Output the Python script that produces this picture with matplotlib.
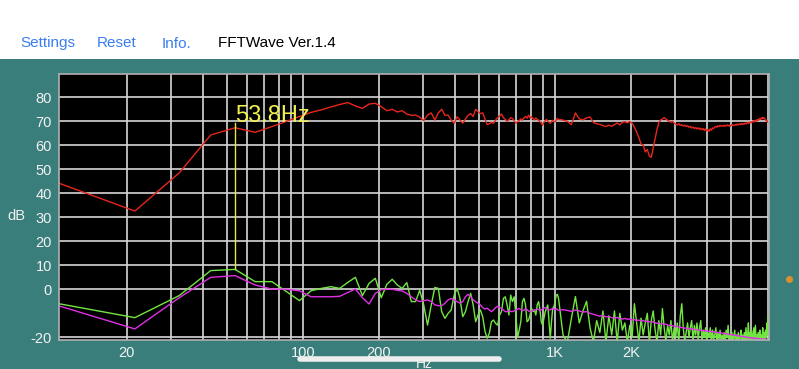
import matplotlib
matplotlib.use('Agg')
import matplotlib.pyplot as plt
from matplotlib.patches import Rectangle
from matplotlib.lines import Line2D

plt.rcParams['font.family'] = ['Liberation Sans', 'DejaVu Sans']

# FFT bins (4096 points at 44.1 kHz); every bin up to 96, then every 4th
bin_hz = 44100 / 4096
bins = list(range(1, 97)) + list(range(100, 657, 4))

red_db = [
	44.2, 32.6, 48.5, 64.3, 67.3, 65.4, 67.8, 70.0, 72.0, 73.7,
	74.8, 76.0, 77.0, 77.8, 76.4, 75.4, 77.2, 77.5, 76.1, 74.4,
	75.0, 73.9, 74.4, 73.0, 72.5, 72.6, 71.7, 70.3, 72.6, 73.5,
	70.5, 73.5, 75.0, 72.5, 72.6, 70.5, 69.2, 71.9, 70.5, 69.2,
	71.0, 72.5, 73.2, 72.0, 75.0, 74.0, 73.2, 73.5, 71.0, 68.6,
	69.0, 69.5, 69.2, 70.5, 71.5, 72.2, 73.0, 71.5, 70.8, 70.0,
	70.6, 71.5, 71.2, 70.2, 69.2, 69.8, 70.3, 71.0, 70.5, 71.5,
	72.0, 71.3, 72.6, 71.4, 71.9, 71.2, 70.6, 71.4, 70.8, 70.5,
	69.8, 69.2, 68.4, 69.6, 70.2, 70.8, 70.1, 69.6, 69.2, 69.8,
	70.4, 70.0, 69.8, 70.5, 71.2, 70.8,
	# every 4th bin from 100
	70.5, 70.0, 68.6, 73.5, 71.0, 70.6, 71.4, 71.8, 69.5, 69.0,
	68.7, 68.2, 67.8, 68.4, 67.9, 68.6, 69.3, 68.5, 69.6, 69.8,
	69.4, 69.9, 69.2, 67.5, 65.5, 63.2, 60.5, 60.2, 57.2, 58.3,
	55.5, 55.0, 59.0, 62.8, 66.5, 69.5, 70.6, 71.0, 71.5, 71.0,
	70.4, 70.0, 69.6, 70.0, 69.2, 68.8, 68.5, 69.0, 68.3, 68.6,
	68.0, 68.4, 67.8, 68.2, 67.5, 67.9, 67.2, 67.6, 67.0, 67.4,
	66.8, 67.3, 66.6, 67.1, 66.5, 67.0, 66.2, 66.8, 66.0, 66.6,
	65.8, 66.9, 66.3, 67.2, 67.0, 67.6, 67.9, 67.5, 68.1, 67.8,
	68.3, 67.9, 68.2, 68.0, 68.4, 67.9, 68.2, 68.5, 68.1, 68.4,
	67.8, 68.3, 68.6, 68.2, 68.5, 68.3, 68.7, 68.4, 68.9, 68.5,
	68.8, 69.0, 68.6, 69.1, 68.7, 69.0, 68.8, 69.3, 68.9, 69.2,
	69.5, 69.1, 69.6, 69.3, 69.8, 69.4, 69.9, 70.1, 69.7, 70.3,
	70.0, 70.5, 70.2, 70.8, 70.4, 70.9, 71.2, 70.8, 71.4, 71.0,
	71.6, 71.2, 71.5, 71.0, 70.6, 70.2, 70.4, 69.8, 69.5, 69.2,
]

green_db = [
	-6.0, -11.8, -2.6, 7.8, 8.3, 3.2, 3.2, -1.0, -4.7, -0.6,
	0.4, 1.1, 0.4, 2.9, 5.0, -2.6, 2.5, 4.6, -3.5, 2.1,
	4.2, 1.8, 0.4, 2.8, -5.1, -5.1, -0.4, -6.5, -14.9, -6.5,
	0.8, 0.4, -9.3, -12.1, -10.0, -8.6, -2.4, 0.4, -3.8, -11.4,
	-9.3, -5.1, -1.7, -6.5, -13.5, -10.7, -8.6, -11.4, -17.4, -20.4,
	-18.3, -13.5, -12.8, -14.2, -14.9, -10.7, -9.3, -3.8, -3.1, -6.5,
	-10.7, -2.4, -5.1, -3.1, -10.7, -20.0, -17.0, -13.5, -5.1, -3.8,
	-6.5, -13.5, -12.8, -10.7, -7.9, -9.3, -8.6, -10.7, -6.5, -5.1,
	-8.6, -13.5, -14.9, -12.1, -9.3, -7.9, -6.5, -13.5, -20.4, -13.5,
	-7.9, -7.2, -5.1, -2.4, -2.1, -3.8,
	# every 4th bin from 100
	-19, -22, -12, -3, -14, -9, -5, -16, -22, -13,
	-18, -9, -22, -11, -19, -9, -22, -10, -17, -14,
	-22, -15, -20, -6, -14, -22, -12, -19, -14, -10,
	-22, -13, -9, -17, -22, -13, -19, -8, -16, -22,
	-15, -19, -13, -22, -16, -20, -14, -22, -11, -6,
	-16, -22, -18, -14, -20, -16, -13, -22, -15, -19,
	-14, -21, -16, -13, -22, -17, -20, -16, -22, -18,
	-20, -16, -22, -17, -21, -19, -16, -22, -18, -21,
	-17, -22, -19, -21, -18, -22, -17, -20, -15, -22,
	-19, -21, -18, -22, -20, -17, -22, -19, -21, -18,
	-22, -20, -17, -22, -19, -21, -18, -22, -16, -21,
	-19, -14, -22, -18, -21, -17, -22, -19, -16, -21,
	-15, -22, -19, -21, -18, -22, -17, -21, -19, -22,
	-16, -21, -18, -22, -17, -20, -14, -19, -11, -13,
]

magenta_db = [
	-6.9, -16.5, -3.5, 5.0, 5.7, 1.8, 0.1, 0.0, -0.6, -3.1,
	-3.1, -3.1, -2.9, -1.3, 0.1, -3.5, -6.1, -1.7, -0.1, 0.0,
	0.0, -0.4, -0.7, -1.7, -3.1, -4.4, -5.1, -4.7, -4.4, -5.1,
	-6.5, -6.8, -6.8, -5.8, -4.4, -3.8, -4.4, -5.1, -5.8, -5.1,
	-3.1, -2.1, -3.1, -4.4, -5.1, -5.8, -6.5, -7.6, -8.2, -7.9,
	-8.6, -9.3, -8.6, -7.6, -7.2, -7.6, -7.9, -8.6, -9.3, -9.3,
	-8.9, -9.2, -9.3, -9.0, -8.6, -8.3, -8.0, -8.4, -8.9, -8.7,
	-8.0, -8.5, -9.0, -9.3, -9.1, -8.8, -8.6, -8.5, -8.2, -8.4,
	-8.8, -8.5, -8.1, -7.8, -7.6, -7.9, -8.3, -8.6, -8.5, -8.2,
	-8.0, -8.3, -8.5, -8.1, -8.4, -8.7,
	# every 4th bin from 100
	-8.5, -8.8, -9.2, -8.6, -9.0, -9.5, -9.3, -10.0, -10.4, -10.8,
	-11.2, -10.9, -11.5, -11.3, -11.8, -12.0, -11.7, -12.2, -12.4, -12.1,
	-12.5, -12.3, -12.8, -12.6, -13.0, -12.8, -13.2, -13.0, -13.4, -13.3,
	-13.5, -13.7, -13.5, -13.9, -14.2, -14.0, -14.4, -14.3, -14.6, -14.5,
	-14.9, -15.1, -14.9, -15.3, -15.2, -15.5, -15.4, -15.8, -15.7, -16.0,
	-16.0, -16.2, -16.1, -16.4, -16.3, -16.5, -16.6, -16.5, -16.8, -16.7,
	-16.9, -17.0, -16.9, -17.1, -17.2, -17.1, -17.3, -17.2, -17.4, -17.5,
	-17.4, -17.6, -17.5, -17.7, -17.8, -17.7, -17.9, -18.0, -17.9, -18.1,
	-18.2, -18.1, -18.3, -18.4, -18.3, -18.5, -18.6, -18.5, -18.7, -18.8,
	-18.7, -18.9, -19.0, -18.9, -19.1, -19.2, -19.1, -19.3, -19.4, -19.3,
	-19.5, -19.4, -19.6, -19.7, -19.6, -19.8, -19.7, -19.9, -20.0, -19.9,
	-20.0, -20.1, -20.0, -20.2, -20.1, -20.3, -20.2, -20.3, -20.4, -20.3,
	-20.4, -20.5, -20.4, -20.5, -20.6, -20.5, -20.6, -20.7, -20.6, -20.7,
	-20.7, -20.8, -20.7, -20.8, -20.8, -20.9, -20.8, -20.9, -20.9, -21.0,
]

marker_bin = 5
marker_label = '53.8Hz'
marker_top_db = 69.3

y_ticks = [-20, 0, 10, 20, 30, 40, 50, 60, 70, 80]
x_labels = {20: '20', 100: '100', 200: '200', 1000: '1K', 2000: '2K'}
x_grid = [m * d for d in (10, 100, 1000) for m in range(1, 10) if 20 <= m * d <= 7000]
menu_items = [('Settings', 20, 46.7), ('Reset', 97, 46.7), ('Info.', 162, 47.7)]

teal = '#3a7e7c'
W, H = 799, 369

freqs = [b * bin_hz for b in bins]

fig = plt.figure(figsize=(W / 100, H / 100), dpi=100, facecolor=teal)
fig.patches.append(Rectangle((0, (H - 59) / H), 1, 59 / H, transform=fig.transFigure,
	facecolor='white', edgecolor='none'))

for txt, px, py in menu_items:
	fig.text(px / W, (H - py) / H, txt, color='#3a7df0', fontsize=11, va='baseline', ha='left')
fig.text(218 / W, (H - 46.7) / H, 'FFTWave Ver.1.4', color='black', fontsize=11,
	va='baseline', ha='left')

ax = fig.add_axes([59 / W, 29.5 / H, 710 / W, 265.5 / H], facecolor='black')
ax.set_xscale('log')
ax.set_xlim(bin_hz, 7070)
ax.set_ylim(-20.9, 89.7)

ax.set_xticks(x_grid)
ax.set_xticklabels([x_labels.get(f, '') for f in x_grid])
ax.xaxis.set_minor_locator(matplotlib.ticker.NullLocator())
ax.set_yticks(y_ticks)
ax.set_yticklabels([str(v) for v in y_ticks])
ax.tick_params(axis='both', length=0, colors='#f2f2f2', labelsize=10.5)
ax.tick_params(axis='x', pad=4.5)
ax.tick_params(axis='y', pad=5)
ax.grid(True, color='#d6d6d6', lw=1.2)
ax.set_axisbelow(True)
for sp in ax.spines.values():
	sp.set_color('#b0b0b0')
	sp.set_linewidth(1.2)

ax.plot(freqs, red_db, color='#e8261c', lw=1.0)
ax.plot(freqs, green_db, color='#72e640', lw=1.0)
ax.plot(freqs, magenta_db, color='#e030e6', lw=1.0)

mf = marker_bin * bin_hz
ax.plot([mf, mf], [green_db[marker_bin - 1], marker_top_db], color='#e6e645', lw=1.0)
ax.text(mf, 69.7, marker_label, color='#f0f050', fontsize=17, ha='left', va='baseline')

fig.text(16 / W, (H - 216) / H, 'dB', color='#f2f2f2', fontsize=10.5, ha='center', va='center')
fig.text(424 / W, (H - 367.5) / H, 'Hz', color='#f2f2f2', fontsize=10, ha='center', va='baseline')

fig.add_artist(Line2D([300 / W, 499 / W], [(H - 358.5) / H] * 2, lw=4, color='#eeeeee',
	solid_capstyle='round'))
fig.add_artist(Line2D([789 / W], [(H - 279) / H], marker='o', ms=4, color='#d8912e', lw=0))

fig.savefig('out.png', dpi=100, facecolor=teal)
